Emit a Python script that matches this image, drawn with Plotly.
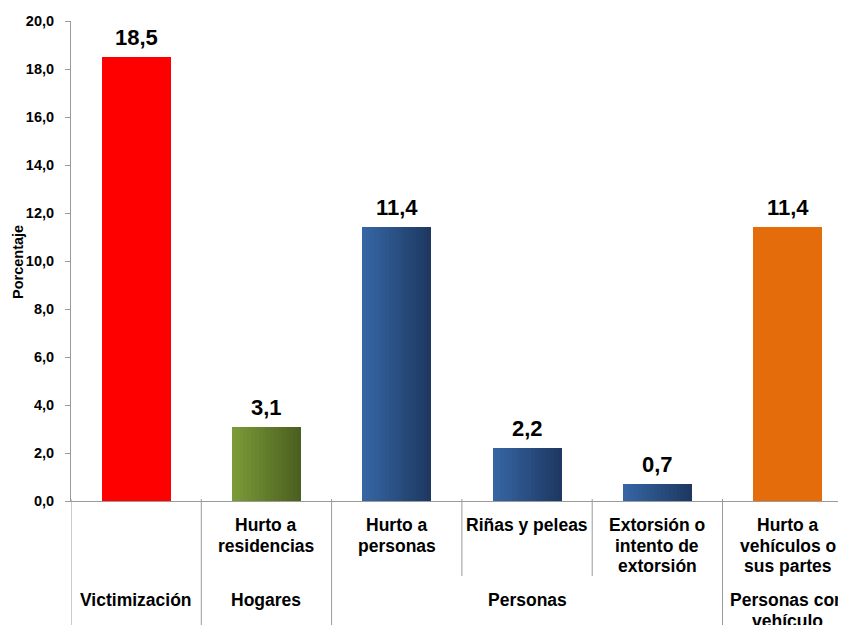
import plotly.graph_objects as go

# ---------------- data ----------------
values = [18.5, 3.1, 11.4, 2.2, 0.7, 11.4]
sub_labels = [
    [],
    ["Hurto a", "residencias"],
    ["Hurto a", "personas"],
    ["Riñas y peleas"],
    ["Extorsión o", "intento de", "extorsión"],
    ["Hurto a", "vehículos o", "sus partes"],
]
group_labels = [["Victimización"], ["Hogares"], ["Personas"], ["Personas con", "vehículo"]]
group_spans = [(0, 0), (1, 1), (2, 4), (5, 5)]
y_ticks = [0, 2, 4, 6, 8, 10, 12, 14, 16, 18, 20]

# ---------------- style ----------------
color_left = ["#FF0000", "#7C9C37", "#3667A5", "#3667A5", "#3667A5", "#E46C0A"]
color_right = ["#FF0000", "#4A5D20", "#1D3760", "#1D3760", "#1D3760", "#E46C0A"]
FONT = "Liberation Sans, Arial, sans-serif"
OFF = 8                      # default page body margin
W, H = 846 - OFF, 625 - OFF
ML, MR, MT = 71 - OFF, 0, 21 - OFF
Y0 = 501 - OFF               # pixel row of value 0 inside the figure
MB = H - Y0
plot_w = W - ML - MR
plot_h = H - MT - MB
cat_px = 130.3
bar_w = 0.53
n_strips = 18
axis_col = "#9A9A9A"


def hex2rgb(h):
    h = h.lstrip("#")
    return tuple(int(h[i:i + 2], 16) for i in (0, 2, 4))


def mix(c1, c2, t):
    a, b = hex2rgb(c1), hex2rgb(c2)
    return "rgb(%d,%d,%d)" % tuple(round(a[i] + (b[i] - a[i]) * t) for i in range(3))


def py(px):  # page pixel y -> paper y
    return (501 - px) / plot_h


def pxx(px):  # page pixel x -> paper x
    return (px - 71) / plot_w


x = list(range(len(values)))
fig = go.Figure()
step = bar_w / n_strips
for k in range(n_strips):
    t = (k + 0.5) / n_strips
    wk = step * 1.15 if k < n_strips - 1 else step
    fig.add_trace(go.Bar(
        x=x, y=values,
        width=[wk] * len(x),
        offset=[-bar_w / 2 + k * step] * len(x),
        marker=dict(color=[mix(color_left[i], color_right[i], t) for i in x], line=dict(width=0)),
        hoverinfo="skip", showlegend=False,
    ))

annotations = []
# value labels
for i, v in enumerate(values):
    annotations.append(dict(
        x=i, y=v, xref="x", yref="y", text=f"{v:.1f}".replace(".", ","),
        showarrow=False, yanchor="bottom", yshift=5,
        font=dict(family=FONT, size=22, color="#000000", weight="bold"),
    ))

lab_font = dict(family=FONT, size=17.5, color="#000000", weight="bold")
line_gap = 20.5
# sub-category labels
for i, lines in enumerate(sub_labels):
    for j, ln in enumerate(lines):
        base = 531 + j * line_gap
        annotations.append(dict(
            x=i, y=py(base - 6), xref="x", yref="paper", text=ln,
            showarrow=False, yanchor="middle", xanchor="center", font=lab_font,
        ))
# group labels
for (a, b), lines in zip(group_spans, group_labels):
    for j, ln in enumerate(lines):
        base = 606 + j * line_gap
        annotations.append(dict(
            x=(a + b) / 2, y=py(base - 6), xref="x", yref="paper", text=ln,
            showarrow=False, yanchor="middle", xanchor="center", font=lab_font,
        ))

# y-axis title
annotations.append(dict(
    x=pxx(18), y=py(262), xref="paper", yref="paper", text="Porcentaje",
    textangle=-90, showarrow=False, xanchor="center", yanchor="middle",
    font=dict(family=FONT, size=14.5, color="#000000", weight="bold"),
))

shapes = []
# separator lines below the category axis
group_bounds = set()
for a, b in group_spans:
    group_bounds.add(a - 0.5)
    group_bounds.add(b + 0.5)
for k in range(len(values) + 1):
    xb = k - 0.5
    full = xb in group_bounds
    shapes.append(dict(
        type="line", xref="x", yref="paper", x0=xb, x1=xb,
        y0=py(499), y1=py(640) if full else py(576),
        line=dict(color=axis_col, width=1),
    ))

fig.update_layout(
    width=W, height=H,
    margin=dict(l=ML, r=MR, t=MT, b=MB, pad=0, autoexpand=False),
    paper_bgcolor="white", plot_bgcolor="white",
    barmode="overlay", bargap=0,
    separators=",.",
    showlegend=False,
    annotations=annotations,
    shapes=shapes,
    xaxis=dict(
        range=[-0.5, -0.5 + plot_w / cat_px], showticklabels=False, showgrid=False,
        zeroline=False, showline=True, linecolor=axis_col, linewidth=1, ticks="",
        fixedrange=True, automargin=False,
    ),
    yaxis=dict(
        range=[0, 20], tickvals=y_ticks, tickformat=".1f", showgrid=False,
        zeroline=False, showline=True, linecolor=axis_col, linewidth=1,
        ticks="outside", ticklen=5, tickcolor=axis_col, ticklabelstandoff=8,
        tickfont=dict(family=FONT, size=14.5, color="#000000", weight="bold"),
        fixedrange=True, automargin=False,
    ),
)

fig.write_html("out.html")
